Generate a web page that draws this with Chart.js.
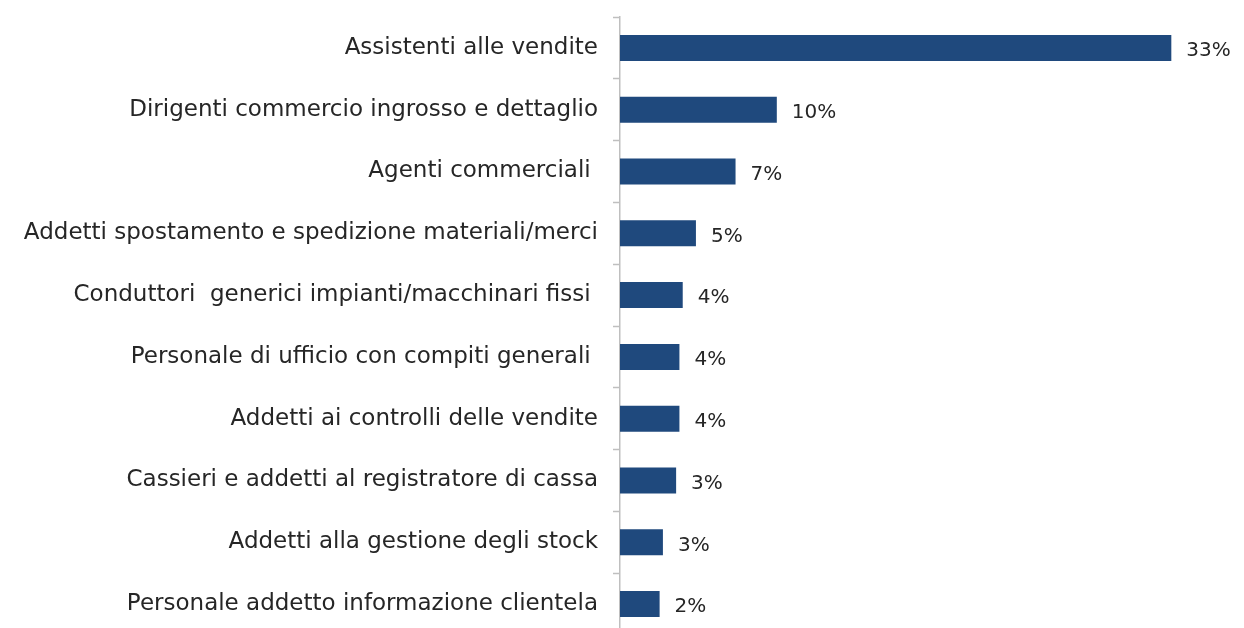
<!DOCTYPE html>
<html>
<head>
<meta charset="utf-8">
<script src="https://cdn.jsdelivr.net/npm/chart.js@4/dist/chart.umd.min.js"></script>
<style>
  html, body { margin: 0; padding: 0; background: #ffffff; overflow: hidden; }
  #wrap { width: 1244px; height: 628px; overflow: hidden; }
  canvas { display: block; }
</style>
</head>
<body>
<div id="wrap"><canvas id="c" width="1244" height="640" style="width:1244px;height:640px"></canvas></div>
<script>
const categories = [
  "Assistenti alle vendite",
  "Dirigenti commercio ingrosso e dettaglio",
  "Agenti commerciali ",
  "Addetti spostamento e spedizione materiali/merci",
  "Conduttori  generici impianti/macchinari fissi ",
  "Personale di ufficio con compiti generali ",
  "Addetti ai controlli delle vendite",
  "Cassieri e addetti al registratore di cassa",
  "Addetti alla gestione degli stock",
  "Personale addetto informazione clientela"
];
const values = [33.4, 9.5, 7.0, 4.6, 3.8, 3.6, 3.6, 3.4, 2.6, 2.4];

const FONT = '"DejaVu Sans", sans-serif';
const TEXT_COLOR = '#262626';
const AXIS_COLOR = '#bfbfbf';

const valueLabels = {
  id: 'valueLabels',
  afterDatasetsDraw(chart) {
    const ctx = chart.ctx;
    const meta = chart.getDatasetMeta(0);
    ctx.save();
    ctx.font = '20px ' + FONT;
    ctx.fillStyle = TEXT_COLOR;
    ctx.textAlign = 'left';
    ctx.textBaseline = 'middle';
    meta.data.forEach((bar, i) => {
      const v = chart.data.datasets[0].data[i];
      ctx.fillText(Math.round(v) + '%', bar.x + 15, bar.y + 3);
    });
    ctx.restore();
  }
};

new Chart(document.getElementById('c'), {
  type: 'bar',
  data: {
    labels: categories,
    datasets: [{
      data: values,
      backgroundColor: '#1F497D',
      borderWidth: 0,
      categoryPercentage: 1.0,
      barPercentage: 0.42
    }]
  },
  options: {
    indexAxis: 'y',
    responsive: false,
    maintainAspectRatio: false,
    animation: false,
    layout: { padding: { top: 17, bottom: 5, left: 0, right: 5 } },
    plugins: { legend: { display: false }, tooltip: { enabled: false } },
    scales: {
      x: { display: false, min: 0, max: 37.5 },
      y: {
        afterFit(scale) {
          scale.width = 620;
          scale.paddingTop = 0;
          scale.paddingBottom = 0;
        },
        border: { display: true, color: AXIS_COLOR, width: 1.5 },
        grid: {
          drawOnChartArea: false,
          drawTicks: true,
          tickLength: 7,
          tickWidth: 1.5,
          tickColor: AXIS_COLOR,
          offset: true
        },
        ticks: {
          color: TEXT_COLOR,
          font: { family: FONT, size: 23 },
          padding: 15,
          autoSkip: false
        }
      }
    }
  },
  plugins: [valueLabels]
});
</script>
</body>
</html>
